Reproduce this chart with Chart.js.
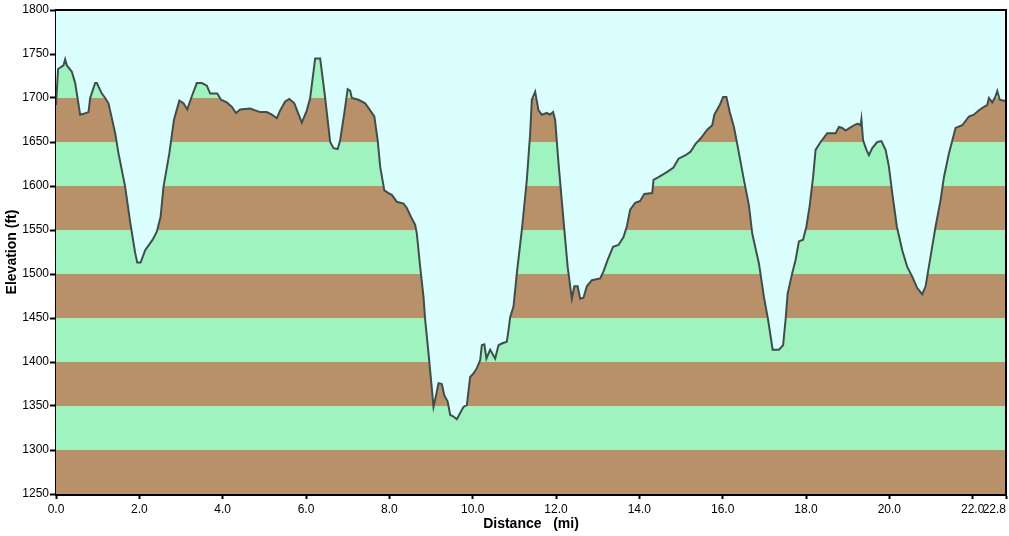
<!DOCTYPE html>
<html>
  <head>
    <title>Elevation profile</title>
    <script src="https://cdn.jsdelivr.net/npm/chart.js"></script>
    <style>
      body { margin: 0; background: #ffffff; }
      .chart-container { width: 1009px; height: 536px; position: relative; }
    </style>
  </head>
  <body>
    <div class="chart-container">
      <canvas id="myChart"></canvas>
    </div>

    <script>
      // distance along the route (mi) and elevation (ft)
      const distance = [
        0, 0.05, 0.18, 0.22, 0.26, 0.38, 0.46, 0.58, 0.66, 0.78,
        0.82, 0.94, 0.98, 1.10, 1.18, 1.26, 1.42, 1.50, 1.66, 1.78,
        1.90, 1.95, 2.03, 2.14, 2.32, 2.42, 2.51, 2.58, 2.72, 2.83,
        2.96, 3.06, 3.15, 3.26, 3.38, 3.50, 3.62, 3.70, 3.87, 3.96,
        4.10, 4.22, 4.32, 4.42, 4.66, 4.78, 4.90, 5.06, 5.18, 5.30,
        5.38, 5.50, 5.60, 5.72, 5.90, 6.02, 6.10, 6.22, 6.34, 6.46,
        6.58, 6.66, 6.76, 6.82, 6.92, 7.00, 7.06, 7.10, 7.26, 7.42,
        7.54, 7.64, 7.72, 7.78, 7.88, 7.98, 8.06, 8.18, 8.34, 8.42,
        8.54, 8.62, 8.66, 8.74, 8.82, 8.86, 8.94, 9.00, 9.06, 9.13,
        9.18, 9.26, 9.32, 9.40, 9.46, 9.54, 9.62, 9.70, 9.78, 9.86,
        9.94, 10.02, 10.10, 10.18, 10.22, 10.28, 10.33, 10.42, 10.54, 10.62,
        10.70, 10.82, 10.86, 10.90, 10.98, 11.06, 11.18, 11.30, 11.38, 11.42,
        11.50, 11.58, 11.66, 11.78, 11.85, 11.93, 11.98, 12.06, 12.18, 12.28,
        12.38, 12.44, 12.52, 12.58, 12.66, 12.74, 12.86, 13.06, 13.14, 13.24,
        13.37, 13.50, 13.62, 13.70, 13.78, 13.90, 14.02, 14.12, 14.31, 14.34,
        14.46, 14.67, 14.82, 14.94, 15.11, 15.23, 15.35, 15.47, 15.63, 15.75,
        15.80, 15.93, 16.01, 16.09, 16.17, 16.27, 16.36, 16.51, 16.63, 16.71,
        16.87, 16.99, 17.09, 17.20, 17.35, 17.45, 17.51, 17.56, 17.67, 17.75,
        17.83, 17.93, 18.01, 18.09, 18.17, 18.23, 18.35, 18.51, 18.71, 18.79,
        18.87, 18.95, 19.05, 19.15, 19.24, 19.31, 19.33, 19.37, 19.45, 19.51,
        19.59, 19.71, 19.81, 19.91, 19.99, 20.07, 20.18, 20.31, 20.43, 20.55,
        20.67, 20.79, 20.87, 20.99, 21.11, 21.23, 21.31, 21.43, 21.59, 21.75,
        21.91, 22.03, 22.15, 22.27, 22.35, 22.39, 22.47, 22.55, 22.59, 22.65,
        22.75, 22.80
      ];
      const elevation = [
        1692, 1733, 1737, 1744, 1737, 1730, 1717, 1681, 1682, 1684,
        1700, 1717, 1717, 1705, 1700, 1694, 1660, 1637, 1599, 1559,
        1524, 1513, 1513, 1527, 1539, 1548, 1565, 1599, 1637, 1675,
        1697, 1694, 1687, 1702, 1717, 1717, 1714, 1705, 1705, 1698,
        1695, 1690, 1683, 1687, 1688, 1686, 1684, 1684, 1681, 1677,
        1686, 1696, 1699, 1694, 1672, 1686, 1700, 1745, 1745, 1700,
        1650, 1643, 1642, 1652, 1683, 1710, 1708, 1700, 1698, 1694,
        1686, 1679, 1652, 1622, 1595, 1592, 1590, 1582, 1580, 1575,
        1563, 1556, 1546, 1508, 1474, 1448, 1410, 1380, 1349, 1364,
        1376, 1375, 1362, 1355, 1340, 1338, 1335, 1342, 1349, 1351,
        1383, 1387, 1393, 1402, 1419, 1420, 1404, 1414, 1404, 1419,
        1421, 1423, 1436, 1451, 1463, 1501, 1550, 1607, 1660, 1698,
        1707, 1686, 1681, 1683, 1681, 1684, 1675, 1626, 1561, 1508,
        1472, 1486, 1486, 1472, 1473, 1486, 1493, 1495, 1503, 1516,
        1531, 1533, 1542, 1554, 1573, 1581, 1583, 1591, 1592, 1607,
        1610, 1616, 1621, 1631, 1635, 1639, 1648, 1654, 1664, 1669,
        1681, 1692, 1701, 1701, 1684, 1667, 1645, 1607, 1578, 1546,
        1512, 1474, 1448, 1414, 1414, 1419, 1448, 1478, 1501, 1516,
        1537, 1539, 1554, 1578, 1610, 1641, 1650, 1660, 1660, 1667,
        1666, 1663, 1666, 1669, 1671, 1669, 1676, 1652, 1641, 1635,
        1643, 1650, 1651, 1641, 1622, 1592, 1554, 1527, 1508, 1497,
        1484, 1477, 1486, 1520, 1554, 1584, 1610, 1637, 1666, 1669,
        1679, 1681, 1686, 1690, 1692, 1700, 1695, 1702, 1708, 1698,
        1697, 1697
      ];

      const xTicks = [0, 2, 4, 6, 8, 10, 12, 14, 16, 18, 20, 22, 22.8];
      const yMin = 1250;
      const yMax = 1800;
      const bandStep = 50;
      const bandColors = ["#b99169", "#9ff3bf"];

      const skyColor = "#dbffff";
      const lineColor = "#3f4e4b";

      // alternating 50 ft bands under the profile
      function bandFill(context) {
        const chart = context.chart;
        if (!chart.chartArea) return bandColors[0];
        const y = chart.scales.y;
        const g = chart.ctx.createLinearGradient(0, y.getPixelForValue(yMin), 0, y.getPixelForValue(yMax));
        const n = (yMax - yMin) / bandStep;
        for (let i = 0; i < n; i++) {
          const col = bandColors[i % 2];
          g.addColorStop(i / n, col);
          g.addColorStop((i + 1) / n, col);
        }
        return g;
      }

      const plotFrame = {
        id: "plotFrame",
        beforeDatasetsDraw(chart) {
          const { ctx, chartArea: a } = chart;
          ctx.save();
          ctx.fillStyle = skyColor;
          ctx.fillRect(a.left, a.top, a.right - a.left, a.bottom - a.top);
          ctx.restore();
        },
        afterDraw(chart) {
          const { ctx, chartArea: a } = chart;
          ctx.save();
          ctx.strokeStyle = "#000000";
          ctx.lineWidth = 2;
          ctx.beginPath();
          ctx.moveTo(a.left, a.top);
          ctx.lineTo(a.right, a.top);
          ctx.lineTo(a.right, a.bottom);
          ctx.stroke();
          ctx.restore();
        },
      };

      const tickFont = { family: "'Liberation Sans', Arial, sans-serif", size: 12 };
      const titleFont = { family: "'Liberation Sans', Arial, sans-serif", size: 14, weight: "bold" };

      new Chart(document.getElementById("myChart"), {
        type: "line",
        data: {
          datasets: [
            {
              data: distance.map((d, i) => ({ x: d, y: elevation[i] })),
              borderColor: lineColor,
              borderWidth: 2,
              backgroundColor: bandFill,
              fill: "start",
              pointRadius: 0,
              tension: 0,
            },
          ],
        },
        options: {
          responsive: true,
          maintainAspectRatio: false,
          animation: false,
          layout: { padding: { top: 10, right: 3, left: 0, bottom: 0 } },
          plugins: {
            legend: { display: false },
            tooltip: { enabled: false },
          },
          scales: {
            x: {
              type: "linear",
              min: 0,
              max: 22.8,
              afterBuildTicks: (s) => { s.ticks = xTicks.map((v) => ({ value: v })); },
              afterFit: (s) => { s.height = 42; s.paddingLeft = 0; s.paddingRight = 0; },
              ticks: {
                autoSkip: false,
                maxRotation: 0,
                color: "#000000",
                font: tickFont,
                padding: 3,
                // last label sits left of its tick so it stays inside the canvas
                callback: (v) => (v === 22.8 ? Number(v).toFixed(1) + "       " : Number(v).toFixed(1)),
              },
              grid: { drawOnChartArea: false, drawTicks: true, tickLength: 5, tickColor: "#000000", tickWidth: 2 },
              border: { color: "#000000", width: 3 },
              title: { display: true, text: "Distance   (mi)", color: "#000000", font: titleFont, padding: { top: 0, bottom: 3 } },
            },
            y: {
              min: yMin,
              max: yMax,
              afterFit: (s) => { s.width = 56; s.paddingTop = 0; s.paddingBottom = 0; },
              ticks: {
                stepSize: bandStep,
                color: "#000000",
                font: tickFont,
                padding: 1,
                callback: (v) => String(v),
              },
              grid: { drawOnChartArea: false, drawTicks: true, tickLength: 6, tickColor: "#000000", tickWidth: 2 },
              border: { color: "#000000", width: 3 },
              title: { display: true, text: "Elevation (ft)", color: "#000000", font: titleFont, padding: { top: 4, bottom: 0 } },
            },
          },
        },
        plugins: [plotFrame],
      });
    </script>
  </body>
</html>
